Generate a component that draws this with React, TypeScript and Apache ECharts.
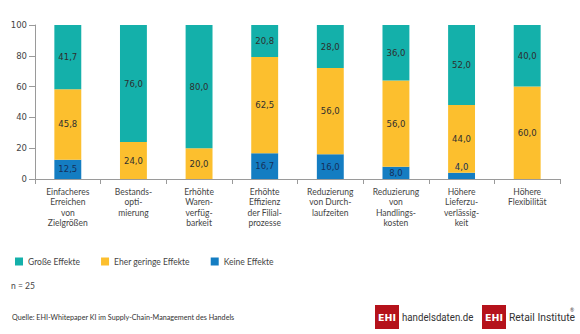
import React, { useEffect, useRef } from "react";
import * as echarts from "echarts";

const categories = [
  "Einfacheres\nErreichen\nvon\nZielgrößen",
  "Bestands-\nopti-\nmierung",
  "Erhöhte\nWaren-\nverfüg-\nbarkeit",
  "Erhöhte\nEffizienz\nder Filial-\nprozesse",
  "Reduzierung\nvon Durch-\nlaufzeiten",
  "Reduzierung\nvon\nHandlings-\nkosten",
  "Höhere\nLieferzu-\nverlässig-\nkeit",
  "Höhere\nFlexibilität",
];
const keineEffekte = [12.5, 0, 0, 16.7, 16.0, 8.0, 4.0, 0];
const geringeEffekte = [45.8, 24.0, 20.0, 62.5, 56.0, 56.0, 44.0, 60.0];
const grosseEffekte = [41.7, 76.0, 80.0, 20.8, 28.0, 36.0, 52.0, 40.0];
const seriesNames = ["Große Effekte", "Eher geringe Effekte", "Keine Effekte"];
const yTicks = { min: 0, max: 100, interval: 20 };

const COLORS = { teal: "#14b0aa", yellow: "#fcbf2e", blue: "#147dc2" };
const NUM_FONT = "'DejaVu Sans', Verdana, sans-serif";
const TXT_FONT = "Lato, 'Open Sans', sans-serif";
const LOGO_FONT = "Roboto, sans-serif";

const fmt = (v: number) => v.toFixed(1).replace(".", ",");

export default function App() {
  const ref = useRef<HTMLDivElement>(null);
  useEffect(() => {
    if (!ref.current) return;
    const chart = echarts.init(ref.current, undefined, { renderer: "svg" });
    const labelBase = {
      show: true,
      position: "inside",
      fontFamily: NUM_FONT,
      fontSize: 8.5,
      color: "#2e2e2e",
      formatter: (p: any) => (p.value ? fmt(p.value) : ""),
    };
    const keineData = keineEffekte.map((v) =>
      v > 0 && v < 6
        ? { value: v, label: { position: "top", distance: 1 } }
        : { value: v }
    );
    const logoBox = (x: number) => [
      { type: "rect", shape: { x, y: 305, width: 24, height: 24 }, style: { fill: "#b5121b" } },
      {
        type: "text",
        x: x + 12,
        y: 317,
        style: {
          text: "EHI",
          fontFamily: "'DejaVu Sans', sans-serif",
          fontWeight: "bold",
          fontSize: 9.5,
          fill: "#fff",
          align: "center",
          verticalAlign: "middle",
        },
      },
    ];
    chart.setOption({
      animation: false,
      grid: { left: 35, right: 20, top: 25, bottom: 155, outerBoundsMode: "none" },
      legend: {
        data: seriesNames,
        left: 15,
        top: 257,
        padding: 0,
        icon: "rect",
        itemWidth: 8,
        itemHeight: 8,
        itemGap: 21,
        textStyle: { fontFamily: TXT_FONT, fontSize: 8.5, color: "#444" },
      },
      xAxis: {
        type: "category",
        data: categories,
        axisLine: { lineStyle: { color: "#9a9a9a" } },
        axisTick: { show: true, length: 5, lineStyle: { color: "#9a9a9a" } },
        axisLabel: {
          interval: 0,
          margin: 8,
          fontFamily: TXT_FONT,
          fontSize: 8.5,
          lineHeight: 10.3,
          color: "#444",
        },
      },
      yAxis: {
        type: "value",
        min: yTicks.min,
        max: yTicks.max,
        interval: yTicks.interval,
        splitLine: { show: false },
        axisLine: { show: true, lineStyle: { color: "#9a9a9a" } },
        axisTick: { show: true, length: 6, lineStyle: { color: "#9a9a9a" } },
        axisLabel: { fontFamily: NUM_FONT, fontSize: 8.5, color: "#444", margin: 8 },
      },
      series: [
        {
          name: seriesNames[2],
          type: "bar",
          stack: "s",
          barWidth: "41%",
          data: keineData,
          itemStyle: { color: COLORS.blue },
          label: { ...labelBase, color: "#15305a" },
        },
        {
          name: seriesNames[1],
          type: "bar",
          stack: "s",
          data: geringeEffekte,
          itemStyle: { color: COLORS.yellow },
          label: labelBase,
        },
        {
          name: seriesNames[0],
          type: "bar",
          stack: "s",
          data: grosseEffekte,
          itemStyle: { color: COLORS.teal },
          label: labelBase,
        },
      ],
      graphic: [
        {
          type: "text",
          left: 11,
          top: 281,
          style: { text: "n = 25", fontFamily: TXT_FONT, fontSize: 8.5, fill: "#444" },
        },
        {
          type: "text",
          left: 12,
          top: 314,
          style: {
            text: "Quelle: EHI-Whitepaper KI im Supply-Chain-Management des Handels",
            fontFamily: TXT_FONT,
            fontSize: 7.2,
            fill: "#333",
          },
        },
        ...logoBox(375),
        {
          type: "text",
          x: 402,
          y: 317,
          scaleX: 0.88,
          style: {
            text: "handelsdaten.de",
            fontFamily: LOGO_FONT,
            fontSize: 11,
            fill: "#333",
            verticalAlign: "middle",
          },
        },
        ...logoBox(482),
        {
          type: "text",
          x: 509,
          y: 317,
          scaleX: 0.94,
          style: {
            text: "Retail Institute",
            fontFamily: LOGO_FONT,
            fontSize: 11,
            fill: "#333",
            verticalAlign: "middle",
          },
        },
        {
          type: "text",
          x: 570,
          y: 307,
          style: { text: "®", fontFamily: TXT_FONT, fontSize: 5, fill: "#333" },
        },
      ],
    });
    return () => chart.dispose();
  }, []);
  return (
    <div
      ref={ref}
      style={{ position: "fixed", left: 0, top: 0, width: 580, height: 334, background: "#fff" }}
    />
  );
}
